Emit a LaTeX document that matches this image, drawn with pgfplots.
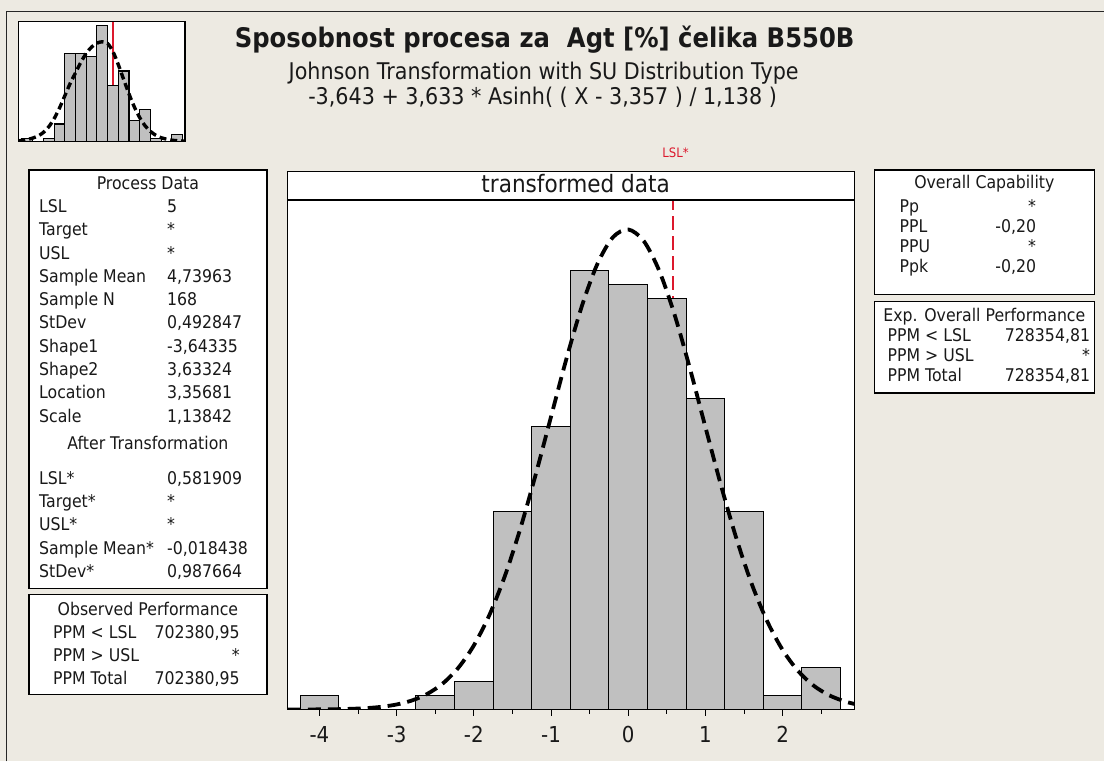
\documentclass[border=0pt]{standalone}
\usepackage{fontspec}
\setmainfont{DejaVu Sans}[FakeStretch=0.9]
\usepackage{pgfplots}
\pgfplotsset{compat=1.18}
\definecolor{bg}{RGB}{237,234,226}
\definecolor{barfill}{RGB}{192,192,192}
\definecolor{lslred}{RGB}{220,25,45}
\definecolor{txt}{RGB}{25,25,25}
\newcommand{\fs}[1]{\fontsize{#1bp}{#1bp}\selectfont}
\tikzset{t/.style={inner sep=0pt, text=txt, font=\fs{17.5}}}
\newcommand{\lrow}[3]{\node[t,anchor=mid west] at (39,762-#1) {#2};\node[t,anchor=mid west] at (167,762-#1) {#3};}
\begin{document}
\begin{tikzpicture}
\begin{scope}[x=1bp,y=1bp]
\fill[bg] (0,0) rectangle (1105,762);
\draw[line width=1.5bp, black!85] (6.5,0) -- (6.5,750.5) -- (1105,750.5);
% ---------- titles ----------
\node[inner sep=0pt, text=txt, font=\fs{27}\bfseries, anchor=mid] at (545,762-45) {Sposobnost procesa za~~Agt [\%] čelika B550B};
\node[inner sep=0pt, text=txt, font=\fs{23}, anchor=mid] at (544,762-77) {Johnson Transformation with SU Distribution Type};
\node[inner sep=0pt, text=txt, font=\fs{23}, anchor=mid] at (543,762-102) {-3,643 + 3,633 * Asinh( ( X - 3,357 ) / 1,138 )};
\node[inner sep=0pt, text=lslred, font=\fs{13}, anchor=mid] at (676,762-155) {LSL*};
\end{scope}

% ---------- mini histogram ----------
\begin{axis}[at={(18.3bp,620.3bp)}, anchor=south west, scale only axis,
  width=166.7bp, height=120bp,
  xmin=-0.35, xmax=15.22, ymin=0, ymax=34,
  xtick=\empty, ytick=\empty,
  axis line style={line width=1.3bp, black},
  axis background/.style={fill=white}, axis on top]
\addplot[lslred, line width=1.6bp] coordinates {(8.53,0) (8.53,34)};
\addplot[ybar, bar width=1, fill=barfill, draw=black, line width=1.1bp] coordinates {
(0.5,1) (2.5,1) (3.5,5) (4.5,25) (5.5,25) (6.5,24) (7.5,33) (8.5,16) (9.5,20) (10.5,6) (11.5,9) (12.5,1) (14.5,2)};
\addplot[black, line width=3.4bp, dash pattern=on 7bp off 4bp, smooth] coordinates {
(-0.35,0.2) (0,0.35) (0.5,0.6) (1,1.0) (1.5,1.6) (2,2.6) (2.5,4.2) (3,6.5) (3.5,9.5) (4,13) (4.5,16.5) (5,19.5) (5.5,22.5) (6,25) (6.5,26.8) (7,27.9) (7.5,28.3) (8,27.8) (8.5,25.5) (9,21.8) (9.5,17.6) (10,13.5) (10.5,9.8) (11,6.8) (11.5,4.5) (12,2.9) (12.5,1.8) (13,1.1) (13.5,0.7) (14,0.4) (14.5,0.25) (15.22,0.15)};
\end{axis}

% ---------- main histogram ----------
\begin{axis}[at={(288bp,52bp)}, anchor=south west, scale only axis,
  width=567bp, height=510bp,
  xmin=-4.41, xmax=2.93, ymin=0, ymax=36,
  ytick=\empty, xtick={-4,-3,-2,-1,0,1,2},
  minor xtick={-3.5,-2.5,-1.5,-0.5,0.5,1.5,2.5},
  xtick pos=lower, tick align=outside,
  major tick length=6bp, minor tick length=4bp,
  tick style={black, line width=1bp},
  xticklabel style={font=\fs{22}, text=txt, anchor=mid, yshift=-24bp},
  /pgf/number format/assume math mode=true,
  axis line style={line width=1.3bp, black},
  axis background/.style={fill=white}, axis on top]
\addplot[lslred, line width=1.5bp, dash pattern=on 14bp off 6bp] coordinates {(0.5819,0) (0.5819,36)};
\addplot[ybar, bar width=0.5, fill=barfill, draw=black, line width=1bp] coordinates {
(-4,1) (-2.5,1) (-2,2) (-1.5,14) (-1,20) (-0.5,31) (0,30) (0.5,29) (1,22) (1.5,14) (2,1) (2.5,3)};
\addplot[black, line width=3.8bp, dash pattern=on 13bp off 7bp, smooth] coordinates {
(-4.41,0.0017) (-4.2,0.0043) (-4.0,0.010) (-3.8,0.022) (-3.6,0.047) (-3.4,0.096) (-3.2,0.189) (-3.0,0.355) (-2.8,0.642) (-2.6,1.113) (-2.4,1.850) (-2.2,2.955) (-2.0,4.528) (-1.8,6.659) (-1.6,9.403) (-1.4,12.744) (-1.2,16.577) (-1.0,20.69) (-0.8,24.79) (-0.6,28.51) (-0.4,31.47) (-0.2,33.35) (0.0,33.91) (0.2,33.10) (0.4,31.01) (0.6,27.89) (0.8,24.07) (1.0,19.94) (1.2,15.86) (1.4,12.10) (1.6,8.864) (1.8,6.233) (2.0,4.207) (2.2,2.725) (2.4,1.694) (2.6,1.011) (2.8,0.579) (2.93,0.394)};
\end{axis}

\begin{scope}[x=1bp,y=1bp]
% strip
\draw[fill=white, line width=1.3bp] (288,562) rectangle (855,590.3);
\node[inner sep=0pt, text=txt, font=\fs{24}, anchor=mid] at (576,762-190) {transformed data};

% ---------- left panels ----------
\draw[line width=1.4bp, fill=white] (29,173) rectangle (267,592);
\node[t, anchor=mid] at (148,762-187) {Process Data};
\lrow{210}{LSL}{5}
\lrow{233.3}{Target}{*}
\lrow{256.6}{USL}{*}
\lrow{279.9}{Sample Mean}{4,73963}
\lrow{303.2}{Sample N}{168}
\lrow{326.5}{StDev}{0,492847}
\lrow{349.8}{Shape1}{-3,64335}
\lrow{373.1}{Shape2}{3,63324}
\lrow{396.4}{Location}{3,35681}
\lrow{419.7}{Scale}{1,13842}
\node[t, anchor=mid] at (148,762-447) {After Transformation};
\lrow{482}{LSL*}{0,581909}
\lrow{505.3}{Target*}{*}
\lrow{528.6}{USL*}{*}
\lrow{551.9}{Sample Mean*}{-0,018438}
\lrow{575}{StDev*}{0,987664}

\draw[line width=1.4bp, fill=white] (29,67) rectangle (267,167);
\node[t, anchor=mid] at (148,762-613) {Observed Performance};
\node[t, anchor=mid west] at (53,762-636) {PPM < LSL};
\node[t, anchor=mid east] at (240,762-636) {702380,95};
\node[t, anchor=mid west] at (53,762-659) {PPM > USL};
\node[t, anchor=mid east] at (240,762-659) {*};
\node[t, anchor=mid west] at (53,762-682) {PPM Total};
\node[t, anchor=mid east] at (240,762-682) {702380,95};

% ---------- right panels ----------
\draw[line width=1.4bp, fill=white] (875,467) rectangle (1095,592);
\node[t, anchor=mid] at (985,762-186) {Overall Capability};
\node[t, anchor=mid west] at (900,762-210) {Pp};
\node[t, anchor=mid east] at (1037,762-210) {*};
\node[t, anchor=mid west] at (900,762-230) {PPL};
\node[t, anchor=mid east] at (1037,762-230) {-0,20};
\node[t, anchor=mid west] at (900,762-250) {PPU};
\node[t, anchor=mid east] at (1037,762-250) {*};
\node[t, anchor=mid west] at (900,762-270) {Ppk};
\node[t, anchor=mid east] at (1037,762-270) {-0,20};

\draw[line width=1.4bp, fill=white] (875,368.7) rectangle (1095,460.3);
\node[t, anchor=mid] at (985,762-318.7) {Exp. Overall Performance};
\node[t, anchor=mid west] at (888,762-338.7) {PPM < LSL};
\node[t, anchor=mid east] at (1091,762-338.7) {728354,81};
\node[t, anchor=mid west] at (888,762-358.7) {PPM > USL};
\node[t, anchor=mid east] at (1091,762-358.7) {*};
\node[t, anchor=mid west] at (888,762-378.7) {PPM Total};
\node[t, anchor=mid east] at (1091,762-378.7) {728354,81};
\end{scope}
\end{tikzpicture}
\end{document}
